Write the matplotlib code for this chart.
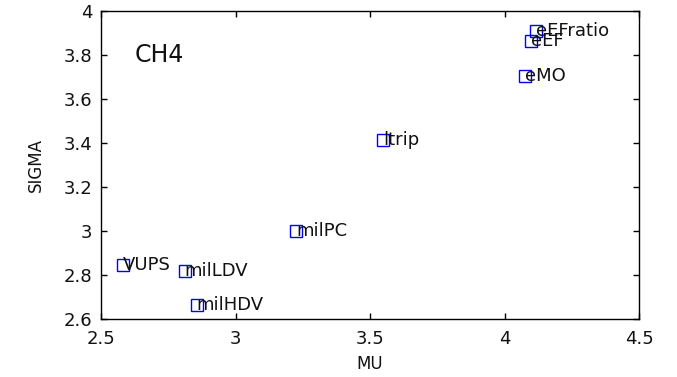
import matplotlib
matplotlib.use("Agg")
import matplotlib.pyplot as plt
from matplotlib.ticker import FormatStrFormatter

plt.rcParams['font.family'] = ['DejaVu Sans']

# mean / spread of log CH4 ratios for each source
names = ['VUPS', 'milLDV', 'milHDV', 'milPC', 'ltrip', 'eMO', 'eEF', 'eEFratio']
mu = [2.582, 2.811, 2.856, 3.225, 3.548, 4.076, 4.100, 4.117]
sigma = [2.845, 2.820, 2.664, 3.000, 3.414, 3.705, 3.864, 3.907]

xticks = [2.5, 3, 3.5, 4, 4.5]
yticks = [2.6, 2.8, 3.0, 3.2, 3.4, 3.6, 3.8, 4.0]

fig = plt.figure(figsize=(6.77, 3.77), dpi=100)
ax = fig.add_axes([101 / 677, 1 - 319 / 377, 538 / 677, 308 / 377])

ax.plot(mu, sigma, 's', markersize=8.5, markerfacecolor='none',
        markeredgecolor='#0000ff', markeredgewidth=1.0)
for x, y, n in zip(mu, sigma, names):
    ax.text(x, y, n, ha='left', va='center', fontsize=13, color='#111111')

ax.text(0.063, 0.857, 'CH4', transform=ax.transAxes, fontsize=17,
        ha='left', va='center', color='#111111')

ax.set_xlim(2.5, 4.5)
ax.set_ylim(2.6, 4.0)
ax.set_xticks(xticks)
ax.set_yticks(yticks)
ax.xaxis.set_major_formatter(FormatStrFormatter('%g'))
ax.yaxis.set_major_formatter(FormatStrFormatter('%g'))
ax.tick_params(direction='in', top=True, right=True, length=4,
               labelsize=13, width=1, labelcolor='#111111')
ax.tick_params(axis='x', pad=8)
ax.tick_params(axis='y', pad=6)
for s in ax.spines.values():
    s.set_linewidth(1.0)

ax.set_xlabel('MU', fontsize=12, labelpad=5, color='#111111')
ax.set_ylabel('SIGMA', fontsize=12, labelpad=14, color='#111111')

fig.savefig('out.png', dpi=100)
